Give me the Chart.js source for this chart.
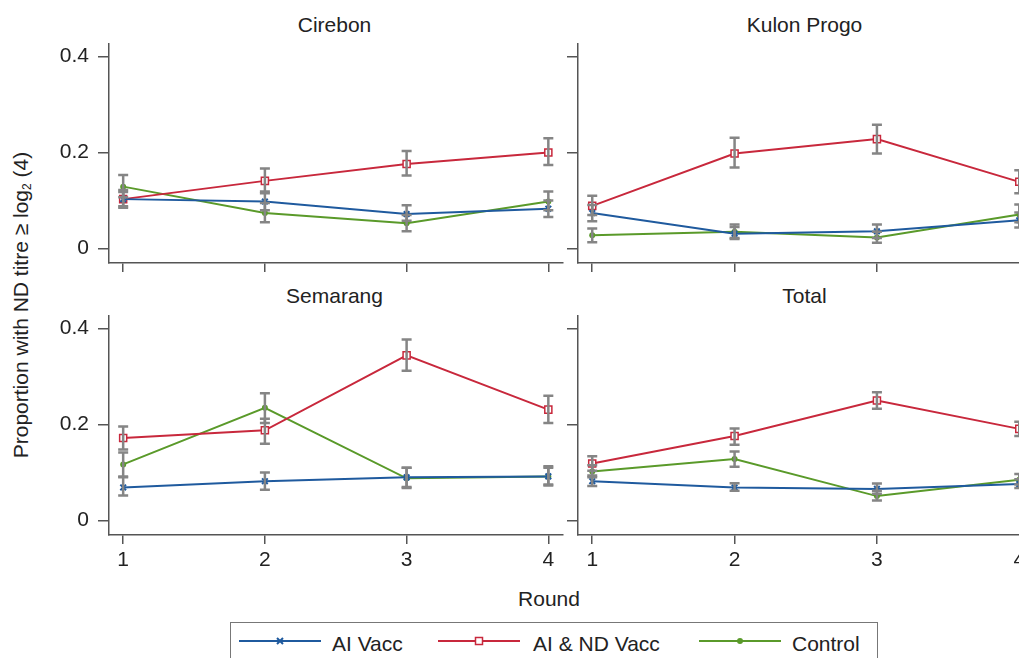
<!DOCTYPE html>
<html lang="en">
<head>
  <meta charset="UTF-8">
  <title>Proportion with ND titre by round</title>
  <script src="https://cdn.jsdelivr.net/npm/chart.js"></script>
  <style>
    html, body { margin:0; padding:0; background:#fff; }
    body { position:relative; width:1019px; height:658px; overflow:hidden;
           font-family:"Liberation Sans", Arial, sans-serif; color:#222; }
    .panel { position:absolute; }
    .ptitle { position:absolute; font-size:21px; line-height:21px; text-align:center; white-space:nowrap; }
    #ytitle { position:absolute; left:-179px; top:293px; width:400px; height:24px; line-height:24px;
              font-size:21px; text-align:center; transform:rotate(-90deg); white-space:nowrap; }
    #ytitle sub { font-size:12px; vertical-align:-3px; line-height:0; }
    #xtitle { position:absolute; left:449px; top:588px; width:200px; font-size:21px; line-height:21px; text-align:center; }
    #legend { position:absolute; left:230px; top:622px; width:646px; height:60px; border:1.5px solid #777; }
    .lk { position:absolute; top:12px; }
    .lt { position:absolute; top:10px; font-size:21px; line-height:21px; white-space:nowrap; }
  </style>
</head>
<body>
  <div class="ptitle" style="left:109px;top:14px;width:451px">Cirebon</div>
  <div class="ptitle" style="left:578px;top:14px;width:453px">Kulon Progo</div>
  <div class="ptitle" style="left:109px;top:285px;width:451px">Semarang</div>
  <div class="ptitle" style="left:578px;top:285px;width:453px">Total</div>

  <div class="panel" style="left:39px;top:20px;width:530px;height:288px"><canvas id="p0"></canvas></div>
  <div class="panel" style="left:508px;top:20px;width:532px;height:288px"><canvas id="p1"></canvas></div>
  <div class="panel" style="left:39px;top:292px;width:530px;height:288px"><canvas id="p2"></canvas></div>
  <div class="panel" style="left:508px;top:292px;width:532px;height:288px"><canvas id="p3"></canvas></div>

  <div id="ytitle">Proportion with ND titre ≥ log<sub>2</sub> (4)</div>
  <div id="xtitle">Round</div>

  <div id="legend">
    <svg class="lk" style="left:8px" width="82" height="12">
      <line x1="0" y1="6" x2="82" y2="6" stroke="#1f5a9e" stroke-width="2"/>
      <path d="M38 3 L44 9 M44 3 L38 9" stroke="#1f5a9e" stroke-width="2"/>
    </svg>
    <span class="lt" style="left:101px">AI Vacc</span>
    <svg class="lk" style="left:207px" width="82" height="12">
      <line x1="0" y1="6" x2="82" y2="6" stroke="#c8283c" stroke-width="2"/>
      <rect x="37.5" y="2.5" width="7" height="7" fill="#fff" stroke="#c8283c" stroke-width="1.5"/>
    </svg>
    <span class="lt" style="left:302px">AI &amp; ND Vacc</span>
    <svg class="lk" style="left:468px" width="82" height="12">
      <line x1="0" y1="6" x2="82" y2="6" stroke="#5a9a2a" stroke-width="2"/>
      <circle cx="41" cy="6" r="3" fill="#5a9a2a"/>
    </svg>
    <span class="lt" style="left:561px">Control</span>
  </div>

  <script>
    // rounds on the x axis, panels in order TL, TR, BL, BR
    const rounds = [1, 2, 3, 4];
    const panels = ['Cirebon', 'Kulon Progo', 'Semarang', 'Total'];
    const yTicks = [0, 0.2, 0.4];

    // AI Vacc (row = panel, col = round)
    const aiVacc   = [[0.103, 0.098, 0.072, 0.083], [0.074, 0.031, 0.036, 0.059], [0.069, 0.082, 0.090, 0.092], [0.082, 0.069, 0.066, 0.076]];
    const aiVaccLo = [[0.088, 0.080, 0.058, 0.066], [0.057, 0.020, 0.022, 0.044], [0.052, 0.064, 0.068, 0.075], [0.072, 0.062, 0.056, 0.068]];
    const aiVaccHi = [[0.118, 0.119, 0.090, 0.100], [0.091, 0.045, 0.050, 0.075], [0.090, 0.100, 0.110, 0.110], [0.094, 0.078, 0.077, 0.086]];

    // AI & ND Vacc
    const aiNd   = [[0.103, 0.141, 0.176, 0.200], [0.089, 0.198, 0.228, 0.139], [0.172, 0.188, 0.344, 0.231], [0.119, 0.176, 0.250, 0.191]];
    const aiNdLo = [[0.085, 0.115, 0.152, 0.174], [0.070, 0.169, 0.198, 0.115], [0.148, 0.160, 0.312, 0.203], [0.104, 0.158, 0.233, 0.176]];
    const aiNdHi = [[0.122, 0.167, 0.203, 0.230], [0.110, 0.231, 0.258, 0.163], [0.196, 0.212, 0.377, 0.260], [0.134, 0.192, 0.267, 0.206]];

    // Control
    const ctrl   = [[0.129, 0.074, 0.053, 0.098], [0.028, 0.035, 0.023, 0.071], [0.117, 0.235, 0.088, 0.092], [0.102, 0.128, 0.051, 0.085]];
    const ctrlLo = [[0.107, 0.055, 0.036, 0.080], [0.013, 0.022, 0.012, 0.055], [0.092, 0.203, 0.070, 0.073], [0.090, 0.112, 0.042, 0.075]];
    const ctrlHi = [[0.153, 0.095, 0.070, 0.119], [0.042, 0.050, 0.035, 0.092], [0.142, 0.265, 0.110, 0.113], [0.115, 0.144, 0.062, 0.097]];

    const FONT = { family: '"Liberation Sans", Arial, sans-serif', size: 21 };
    const AXIS = '#555';

    // grey CI bars, drawn over the lines
    const errorBars = {
      id: 'errorBars',
      afterDatasetsDraw(chart) {
        const { ctx, scales: { x, y } } = chart;
        ctx.save();
        ctx.strokeStyle = '#858585';
        ctx.lineWidth = 2.5;
        chart.data.datasets.forEach(ds => {
          ds.lo.forEach((lo, i) => {
            const px = x.getPixelForValue(rounds[i]);
            const y1 = y.getPixelForValue(lo);
            const y2 = y.getPixelForValue(ds.hi[i]);
            ctx.beginPath();
            ctx.moveTo(px, y1); ctx.lineTo(px, y2);
            ctx.moveTo(px - 5, y1); ctx.lineTo(px + 5, y1);
            ctx.moveTo(px - 5, y2); ctx.lineTo(px + 5, y2);
            ctx.stroke();
          });
        });
        ctx.restore();
      }
    };

    const pts = arr => arr.map((v, i) => ({ x: rounds[i], y: v }));

    function drawPanel(p) {
      const showX = p >= 2;       // bottom row has x labels
      const showY = p % 2 === 0;  // left column has y labels
      new Chart(document.getElementById('p' + p), {
        type: 'line',
        data: {
          datasets: [
            { label: 'AI Vacc', data: pts(aiVacc[p]), lo: aiVaccLo[p], hi: aiVaccHi[p],
              borderColor: '#1f5a9e', borderWidth: 2, pointStyle: 'crossRot', pointRadius: 4,
              pointBorderWidth: 2, pointBorderColor: '#1f5a9e' },
            { label: 'AI & ND Vacc', data: pts(aiNd[p]), lo: aiNdLo[p], hi: aiNdHi[p],
              borderColor: '#c8283c', borderWidth: 2, pointStyle: 'rect', pointRadius: 5,
              pointBorderWidth: 1.5, pointBorderColor: '#c8283c', pointBackgroundColor: '#fff' },
            { label: 'Control', data: pts(ctrl[p]), lo: ctrlLo[p], hi: ctrlHi[p],
              borderColor: '#5a9a2a', borderWidth: 2, pointStyle: 'circle', pointRadius: 3,
              pointBorderWidth: 0, pointBackgroundColor: '#5a9a2a' }
          ]
        },
        options: {
          responsive: true,
          maintainAspectRatio: false,
          animation: false,
          layout: { padding: { top: 24, left: 0, right: 0, bottom: 0 } },
          plugins: { legend: { display: false }, tooltip: { enabled: false } },
          elements: { line: { tension: 0 } },
          scales: {
            x: {
              type: 'linear', min: 0.9, max: 4.1,
              afterBuildTicks: s => { s.ticks = rounds.map(v => ({ value: v })); },
              afterFit: s => { s.height = 45; },
              grid: { drawOnChartArea: false, drawTicks: true, tickLength: 9, color: AXIS, lineWidth: 1.5 },
              border: { display: true, color: AXIS, width: 1.5 },
              ticks: { font: FONT, color: '#222', padding: 4, maxRotation: 0,
                       callback: v => showX ? String(v) : '' }
            },
            y: {
              type: 'linear', min: -0.03, max: 0.426,
              afterBuildTicks: s => { s.ticks = yTicks.map(v => ({ value: v })); },
              afterFit: s => { s.width = 70; },
              grid: { drawOnChartArea: false, drawTicks: true, tickLength: 11, color: AXIS, lineWidth: 1.5 },
              border: { display: true, color: AXIS, width: 1.5 },
              ticks: { font: FONT, color: '#222', padding: 9,
                       callback: v => showY ? String(v) : '' }
            }
          }
        },
        plugins: [errorBars]
      });
    }

    panels.forEach((name, p) => drawPanel(p));
  </script>
</body>
</html>
